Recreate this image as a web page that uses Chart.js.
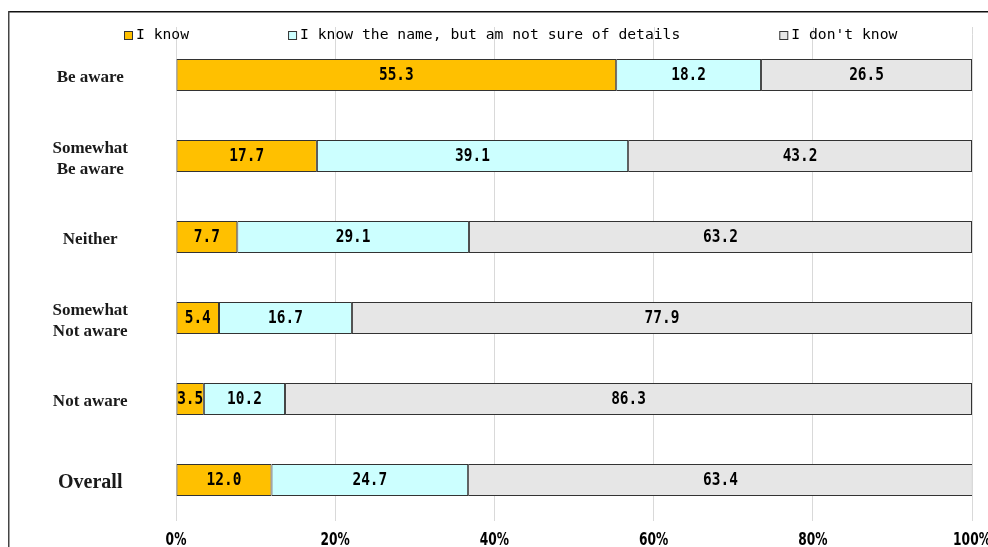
<!DOCTYPE html>
<html>
<head>
<meta charset="utf-8">
<script src="https://cdn.jsdelivr.net/npm/chart.js@4.4.1/dist/chart.umd.min.js"></script>
<style>
  html, body { margin: 0; padding: 0; background: #fff; }
  #wrap { width: 988px; height: 547px; }
</style>
</head>
<body>
<div id="wrap"><canvas id="chart" width="988" height="547"></canvas></div>
<script>
// categories (top to bottom)
const categories = [
  'Be aware',
  ['Somewhat', 'Be aware'],
  'Neither',
  ['Somewhat', 'Not aware'],
  'Not aware',
  'Overall'
];
const seriesNames = ['I know', 'I know the name, but am not sure of details', "I don't know"];
const iKnow = [55.3, 17.7, 7.7, 5.4, 3.5, 12.0];
const knowName = [18.2, 39.1, 29.1, 16.7, 10.2, 24.7];
const dontKnow = [26.5, 43.2, 63.2, 77.9, 86.3, 63.4];
const xTicks = [0, 20, 40, 60, 80, 100];
const colors = ['#FFC000', '#CCFFFF', '#E6E6E6'];

const monoFont = '"DejaVu Sans Mono", "Liberation Mono", monospace';

// white background + frame of the original chart box
const frame = {
  id: 'frame',
  beforeDraw(chart) {
    const ctx = chart.ctx;
    ctx.save();
    ctx.fillStyle = '#fff';
    ctx.fillRect(0, 0, chart.width, chart.height);
    ctx.fillStyle = '#111';
    ctx.fillRect(9, 11, chart.width - 9, 1.5);
    ctx.fillStyle = '#444';
    ctx.fillRect(8, 11, 1.5, chart.height - 11);
    ctx.restore();
  },
  // the excel gridlines start a bit above the first bar row
  beforeDatasetsDraw(chart) {
    const sx = chart.scales.x;
    const ctx = chart.ctx;
    ctx.save();
    ctx.strokeStyle = '#d9d9d9';
    ctx.lineWidth = 1;
    sx.ticks.forEach(t => {
      const px = Math.round(sx.getPixelForValue(t.value)) + 0.5;
      ctx.beginPath();
      ctx.moveTo(px, 27);
      ctx.lineTo(px, chart.chartArea.top);
      ctx.stroke();
    });
    ctx.restore();
  }
};

// values written in the middle of each segment
const barLabels = {
  id: 'barLabels',
  afterDatasetsDraw(chart) {
    const ctx = chart.ctx;
    ctx.save();
    ctx.font = 'bold 17px ' + monoFont;
    ctx.fillStyle = '#000';
    ctx.textAlign = 'center';
    ctx.textBaseline = 'middle';
    chart.data.datasets.forEach((ds, i) => {
      chart.getDatasetMeta(i).data.forEach((bar, j) => {
        const p = bar.getProps(['x', 'y', 'base'], true);
        ctx.save();
        ctx.translate((p.x + p.base) / 2, p.y + 1);
        ctx.scale(0.85, 1);
        ctx.fillText(ds.data[j].toFixed(1), 0, 0);
        ctx.restore();
      });
    });
    ctx.restore();
  }
};

// narrow percent labels under the x axis, placed by the x scale
const xLabels = {
  id: 'xLabels',
  afterDraw(chart) {
    const sx = chart.scales.x;
    const ctx = chart.ctx;
    ctx.save();
    ctx.font = 'bold 17px "DejaVu Sans", sans-serif';
    ctx.fillStyle = '#000';
    ctx.textAlign = 'center';
    ctx.textBaseline = 'middle';
    sx.ticks.forEach(t => {
      ctx.save();
      ctx.translate(sx.getPixelForValue(t.value), sx.top + 20);
      ctx.scale(0.72, 1.05);
      ctx.fillText(t.value + '%', 0, 0);
      ctx.restore();
    });
    ctx.restore();
  }
};

// legend row like the Excel one (small boxes, wide gaps)
const legendRow = {
  id: 'legendRow',
  afterDraw(chart) {
    const ctx = chart.ctx;
    ctx.save();
    ctx.font = '14.7px ' + monoFont;
    ctx.textBaseline = 'middle';
    let x = 124;
    const y = 35;
    chart.data.datasets.forEach(ds => {
      ctx.fillStyle = ds.backgroundColor;
      ctx.fillRect(x, y - 4, 8, 8);
      ctx.strokeStyle = '#333';
      ctx.lineWidth = 1;
      ctx.strokeRect(x + 0.5, y - 3.5, 8, 8);
      ctx.fillStyle = '#000';
      ctx.fillText(ds.label, x + 12, y);
      x += 12 + ctx.measureText(ds.label).width + 99;
    });
    ctx.restore();
  }
};

const series = [iKnow, knowName, dontKnow];

new Chart(document.getElementById('chart'), {
  type: 'bar',
  data: {
    labels: categories,
    datasets: series.map((vals, i) => ({
      label: seriesNames[i],
      data: vals,
      backgroundColor: colors[i],
      borderColor: '#333',
      borderWidth: 1,
      borderSkipped: false,
      barPercentage: 0.395,
      categoryPercentage: 1
    }))
  },
  options: {
    indexAxis: 'y',
    responsive: false,
    animation: false,
    devicePixelRatio: 1,
    layout: { padding: { top: 34.5, right: 16, bottom: 0, left: 0 } },
    plugins: {
      legend: { display: false },
      tooltip: { enabled: false }
    },
    scales: {
      x: {
        type: 'linear',
        stacked: true,
        min: 0,
        max: 100,
        afterBuildTicks: (scale) => {
          scale.ticks = xTicks.map(v => ({ value: v }));
        },
        grid: { color: '#d9d9d9', drawTicks: false },
        border: { display: false },
        ticks: { display: false },
        afterFit: (scale) => {
          scale.height = 26.5;
          scale.paddingLeft = 0;
          scale.paddingRight = 0;
        }
      },
      y: {
        type: 'category',
        stacked: true,
        offset: true,
        grid: { display: false, drawTicks: false },
        border: { display: false },
        ticks: {
          crossAlign: 'center',
          padding: 48,
          labelOffset: 3,
          color: '#1a1a1a',
          font: (ctx) => ({
            family: '"Liberation Serif", "DejaVu Serif", serif',
            weight: 'bold',
            size: ctx.index === 5 ? 20 : 17,
            lineHeight: 1.2
          })
        },
        afterFit: (scale) => {
          scale.width = 176;
          scale.paddingTop = 0;
          scale.paddingBottom = 0;
        }
      }
    }
  },
  plugins: [frame, barLabels, xLabels, legendRow]
});
</script>
</body>
</html>
